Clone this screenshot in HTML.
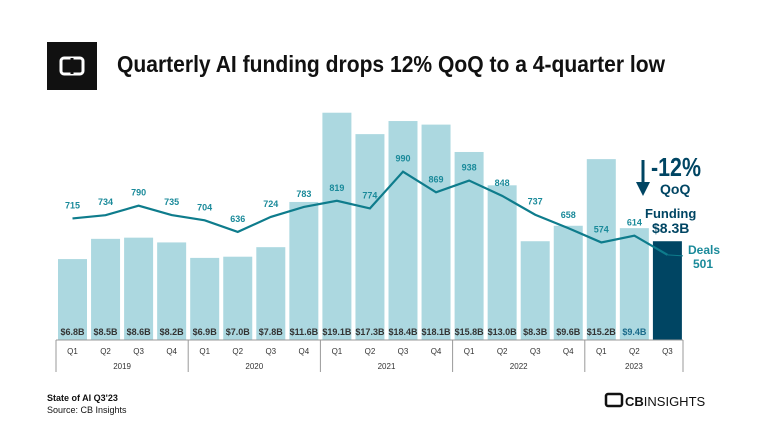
<!DOCTYPE html>
<html><head><meta charset="utf-8"><style>
body{margin:0;background:#fff;font-family:"Liberation Sans",sans-serif}
#wrap{position:relative;width:768px;height:432px;overflow:hidden}
</style></head><body>
<div id="wrap">
<svg width="768" height="432" id="svg">
<g>
<rect x="47" y="42" width="50" height="48" fill="#111"/>
<rect x="61" y="58" width="22" height="16" rx="3" fill="none" stroke="#fff" stroke-width="3"/>
<line x1="72" y1="58" x2="72" y2="74" stroke="#111" stroke-width="3"/>
</g>
<text x="117" y="72" font-size="23" font-weight="bold" fill="#111" textLength="548" lengthAdjust="spacingAndGlyphs">Quarterly AI funding drops 12% QoQ to a 4-quarter low</text>
<g id="bars"></g><g id="axis"></g><g id="line"></g>
<g>
<line x1="643" y1="160" x2="643" y2="184" stroke="#004563" stroke-width="3"/>
<polygon points="636,182 650,182 643,196" fill="#004563"/>
<text x="651" y="176" font-size="26" font-weight="bold" fill="#004563" textLength="50" lengthAdjust="spacingAndGlyphs">-12%</text>
<text x="660" y="194" font-size="14" font-weight="bold" fill="#004563">QoQ</text>
<text x="645" y="218" font-size="13" font-weight="bold" fill="#004563">Funding</text>
<text x="652" y="233" font-size="14" font-weight="bold" fill="#004563">$8.3B</text>
<text x="688" y="254" font-size="12" font-weight="bold" fill="#1a8a9a">Deals</text>
<text x="693" y="268" font-size="12" font-weight="bold" fill="#1a8a9a">501</text>
</g>
<text x="47" y="401" font-size="9" font-weight="bold" fill="#111">State of AI Q3'23</text>
<text x="47" y="413" font-size="9" fill="#111">Source: CB Insights</text>
<g>
<rect x="606" y="394" width="16" height="12" rx="2" fill="none" stroke="#111" stroke-width="2.5"/>
<text x="625" y="406" font-size="13" font-weight="bold" fill="#111">CB<tspan font-weight="normal">INSIGHTS</tspan></text>
</g>
</svg>
</div>
<script>
const quarters=["Q1","Q2","Q3","Q4","Q1","Q2","Q3","Q4","Q1","Q2","Q3","Q4","Q1","Q2","Q3","Q4","Q1","Q2","Q3"];
const years=["2019","2020","2021","2022","2023"];
const funding=[6.8,8.5,8.6,8.2,6.9,7.0,7.8,11.6,19.1,17.3,18.4,18.1,15.8,13.0,8.3,9.6,15.2,9.4,8.3];
const deals=[715,734,790,735,704,636,724,783,819,774,990,869,938,848,737,658,574,614,501];
const NS="http://www.w3.org/2000/svg";
const x0=58,pitch=33.05,bw=29,base=340;
const xs=i=>x0+i*pitch;
const yF=v=>base-v*11.9;
const yD=v=>base-v*0.17;
function mk(t,a,p){const e=document.createElementNS(NS,t);for(const k in a)e.setAttribute(k,a[k]);p.appendChild(e);return e;}
const B=document.getElementById('bars'),A=document.getElementById('axis'),L=document.getElementById('line');
funding.forEach((v,i)=>{
 const last=i===funding.length-1;
 const r=mk('rect',{x:xs(i),y:yF(v),width:bw,height:base-yF(v),fill:last?'#004563':'#acd8e0'},B);
 
 
 if(!last){const t=mk('text',{x:xs(i)+bw/2,y:base-5,'font-size':9,'font-weight':'bold','text-anchor':'middle',fill:i===17?'#1a6a8a':'#333'},B);t.textContent='$'+v.toFixed(1)+'B';
 
 }
 const q=mk('text',{x:xs(i)+bw/2,y:354,'font-size':8,'text-anchor':'middle',fill:'#333'},A);q.textContent=quarters[i];
 
 
});
mk('line',{x1:56,y1:base,x2:683,y2:base,stroke:'#999','stroke-width':1},A);
for(let g=0;g<=5;g++){const xx=g<5?56+g*4*pitch:683;mk('line',{x1:xx,y1:base,x2:xx,y2:372,stroke:'#999','stroke-width':1},A);}
years.forEach((y,g)=>{const s=56+g*4*pitch,e=g<4?s+4*pitch:683;const t=mk('text',{x:(s+e)/2,y:369,'font-size':8,'text-anchor':'middle',fill:'#333'},A);t.textContent=y;
 
 });
const pts=deals.map((v,i)=>[xs(i)+bw/2,yD(v)]);
const pl=mk('polyline',{points:pts.map(p=>p.join(',')).join(' '),fill:'none',stroke:'#0e7c8c','stroke-width':2.2},L);


mk('line',{x1:pts[18][0],y1:pts[18][1],x2:683,y2:pts[18][1]+1,stroke:'#0e7c8c','stroke-width':1},L);
deals.forEach((v,i)=>{if(i===deals.length-1)return;const t=mk('text',{x:pts[i][0],y:pts[i][1]-10,'font-size':9,'font-weight':'bold','text-anchor':'middle',fill:'#1a8a9a'},L);t.textContent=v;
 
 });
</script>
</body></html>
